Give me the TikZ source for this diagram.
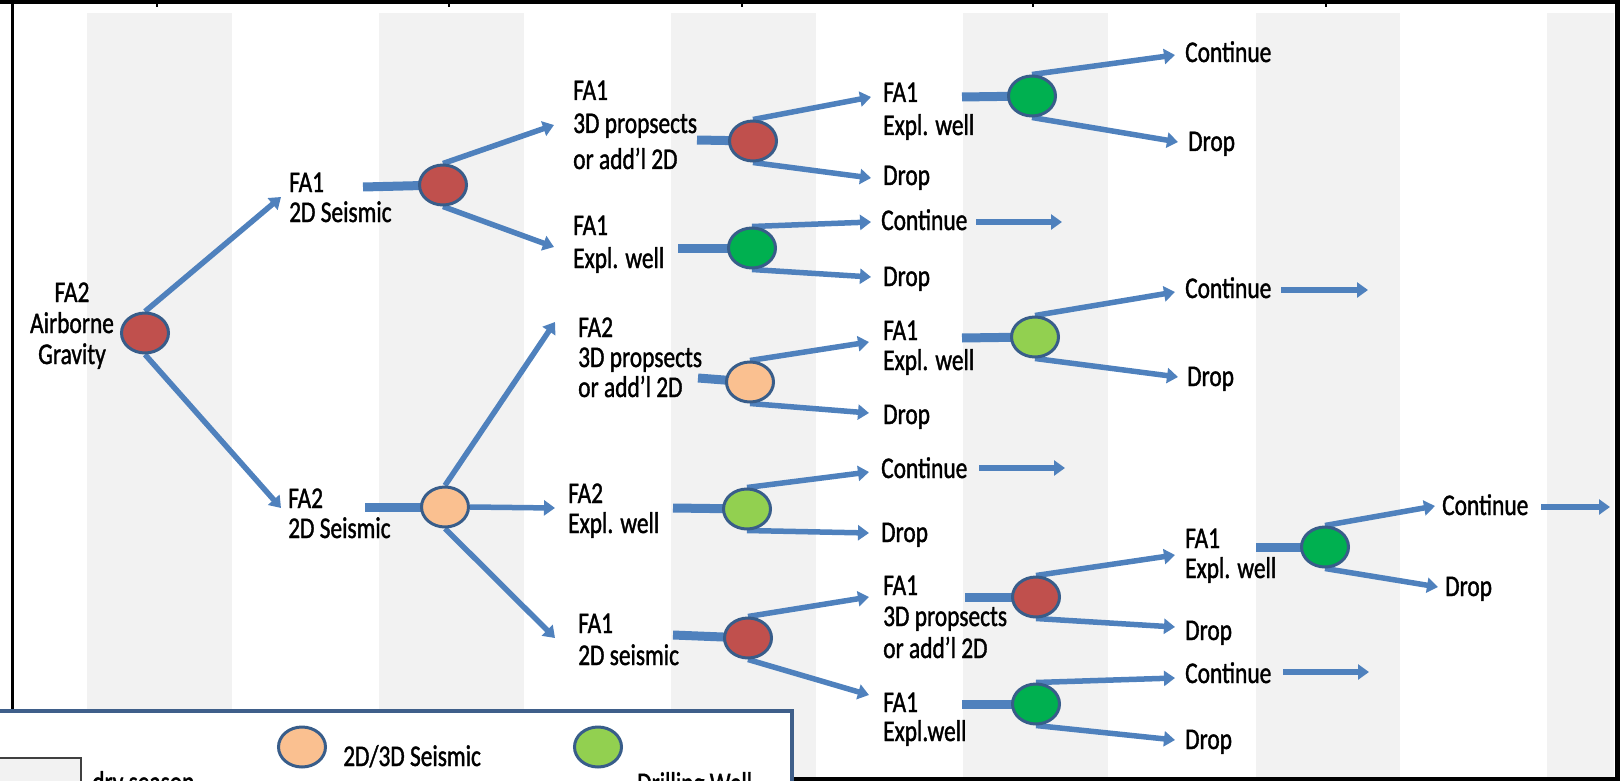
\documentclass[tikz,border=0pt]{standalone}
\usepackage{fontspec}
\setmainfont{Carlito}[FakeBold=1.5]
\usepackage{graphicx}
\usetikzlibrary{shapes.geometric,arrows.meta}
\definecolor{cLine}{HTML}{4F81BD}
\definecolor{cOut}{HTML}{385D8A}
\definecolor{cRed}{HTML}{C0504D}
\definecolor{cGreen}{HTML}{00B050}
\definecolor{cLgreen}{HTML}{92D050}
\definecolor{cPeach}{HTML}{FAC090}
\definecolor{cStripe}{HTML}{F2F2F2}
\definecolor{cLegend}{HTML}{3F5F8A}
\newcommand\sqz[1]{\scalebox{0.78}[1]{#1}}
\newcommand\mylines[1]{\sqz{\begin{tabular}[t]{@{}l@{}}#1\end{tabular}}}
\pgfdeclarelayer{back}
\pgfdeclarelayer{mid}
\pgfsetlayers{back,mid,main}
\tikzset{
  dot/.style={ellipse, draw=cOut, line width=3pt, minimum width=47pt, minimum height=40pt, inner sep=0pt},
  reddot/.style={dot, fill=cRed},
  grndot/.style={dot, fill=cGreen},
  lgdot/.style={dot, fill=cLgreen},
  pchdot/.style={dot, fill=cPeach},
  lbl/.style={anchor=base west, inner sep=0pt, font=\fontsize{30}{31}\selectfont},
  branch/.style={draw=cLine, line width=5.5pt, -{Triangle[length=11pt,width=15pt]}},
  stem/.style={draw=cLine, line width=9pt},
}
\begin{document}
\begin{tikzpicture}[x=1pt,y=-1pt]
\useasboundingbox (0,0) rectangle (1620,781);
% background stripes
\begin{pgfonlayer}{back}
  \foreach \a/\b in {87/232,379/524,671/816,963/1108,1256/1400,1547/1614}
    \fill[cStripe] (\a,13) rectangle (\b,777);
\end{pgfonlayer}
% frame
\fill[black] (0,0) rectangle (1620,4);
\fill[black] (11,0) rectangle (14,711);
\fill[black] (1615,0) rectangle (1620,781);
\fill[black] (792,777) rectangle (1620,781);
\foreach \x in {157,449,742,1033,1326}
  \fill[black] (\x-1,4) rectangle (\x+1,7);

% ---------- circles ----------
\node[reddot] (r0) at (145,333) {};
\node[reddot] (c2) at (443,185) {};
\node[reddot] (c3) at (753,141) {};
\node[grndot] (c4) at (1032,96) {};
\node[grndot] (c5) at (752,248) {};
\node[pchdot] (c6) at (445,507) {};
\node[pchdot] (c7) at (750,382) {};
\node[lgdot] (c8) at (1035,337) {};
\node[lgdot] (c9) at (747,509) {};
\node[reddot] (c10) at (748,638) {};
\node[reddot] (c11) at (1036,597) {};
\node[grndot] (c12) at (1036,704) {};
\node[grndot] (c13) at (1325,547) {};

% ---------- labels ----------
\node[lbl, anchor=base] (t0) at (72,302) {\sqz{\begin{tabular}[t]{@{}c@{}}FA2\\Airborne\\Gravity\end{tabular}}};
\node[lbl] (t2) at (289,192) {\mylines{FA1\\[-1pt]2D Seismic}};
\node[lbl] (t3) at (573,100) {\mylines{FA1\\[2pt]3D propsects\\[5pt]or add’l 2D}};
\node[lbl] (t5) at (573,235) {\mylines{FA1\\[2pt]Expl. well}};
\node[lbl] (t4) at (883,102) {\mylines{FA1\\[2pt]Expl. well}};
\node[lbl] (t3d) at (883,185) {\sqz{Drop}};
\node[lbl] (t4u) at (1185,62) {\sqz{Continue}};
\node[lbl] (t4d) at (1188,151) {\sqz{Drop}};
\node[lbl] (t5u) at (881,230) {\sqz{Continue}};
\node[lbl] (t5d) at (883,286) {\sqz{Drop}};
\node[lbl] (t6) at (288,508) {\mylines{FA2\\[-1pt]2D Seismic}};
\node[lbl] (t7) at (578,337) {\mylines{FA2\\[-1pt]3D propsects\\[-1pt]or add’l 2D}};
\node[lbl] (t7u) at (883,340) {\mylines{FA1\\[-1pt]Expl. well}};
\node[lbl] (t7d) at (883,424) {\sqz{Drop}};
\node[lbl] (t8u) at (1185,298) {\sqz{Continue}};
\node[lbl] (t8d) at (1187,386) {\sqz{Drop}};
\node[lbl] (t9) at (568,503) {\mylines{FA2\\[-1pt]Expl. well}};
\node[lbl] (t9u) at (881,478) {\sqz{Continue}};
\node[lbl] (t9d) at (881,542) {\sqz{Drop}};
\node[lbl] (t10) at (578,633) {\mylines{FA1\\[1pt]2D seismic}};
\node[lbl] (t10u) at (883,595) {\mylines{FA1\\3D propsects\\[1pt]or add’l 2D}};
\node[lbl] (t10d) at (883,712) {\mylines{FA1\\[-2pt]Expl.well}};
\node[lbl] (t11u) at (1185,548) {\mylines{FA1\\[-1pt]Expl. well}};
\node[lbl] (t11d) at (1185,640) {\sqz{Drop}};
\node[lbl] (t12u) at (1185,683) {\sqz{Continue}};
\node[lbl] (t12d) at (1185,749) {\sqz{Drop}};
\node[lbl] (t13u) at (1442,515) {\sqz{Continue}};
\node[lbl] (t13d) at (1445,596) {\sqz{Drop}};

% ---------- coordinates ----------
\coordinate (a1) at (281,197); \coordinate (a2) at (281,508);
\coordinate (s2) at (363,187);
\coordinate (b2u) at (554,125); \coordinate (b2d) at (554,247);
\coordinate (s3) at (697,140);
\coordinate (b3u) at (871,97); \coordinate (b3d) at (871,178);
\coordinate (s4) at (962,97);
\coordinate (b4u) at (1175,55); \coordinate (b4d) at (1178,142);
\coordinate (s5) at (678,248);
\coordinate (b5u) at (871,222); \coordinate (b5d) at (871,277);
\coordinate (k5a) at (976,222); \coordinate (k5b) at (1062,222);
\coordinate (s6) at (365,507);
\coordinate (b6u) at (555,322); \coordinate (b6r) at (555,508); \coordinate (b6d) at (555,638);
\coordinate (s7) at (698,378);
\coordinate (b7u) at (869,342); \coordinate (b7d) at (869,413);
\coordinate (s8) at (962,338);
\coordinate (b8u) at (1175,292); \coordinate (b8d) at (1178,377);
\coordinate (k8a) at (1281,290); \coordinate (k8b) at (1368,290);
\coordinate (s9) at (673,508);
\coordinate (b9u) at (869,472); \coordinate (b9d) at (869,533);
\coordinate (k9a) at (979,468); \coordinate (k9b) at (1065,468);
\coordinate (s10) at (673,635);
\coordinate (b10u) at (869,597); \coordinate (b10d) at (869,695);
\coordinate (s11) at (965,597);
\coordinate (b11u) at (1175,555); \coordinate (b11d) at (1175,627);
\coordinate (s12) at (962,704);
\coordinate (b12u) at (1175,678); \coordinate (b12d) at (1175,740);
\coordinate (k12a) at (1283,672); \coordinate (k12b) at (1369,672);
\coordinate (s13) at (1256,547);
\coordinate (b13u) at (1435,506); \coordinate (b13d) at (1438,587);
\coordinate (k13a) at (1541,507); \coordinate (k13b) at (1610,507);

% ---------- connectors ----------
\begin{pgfonlayer}{mid}
  \draw[branch] (r0.north) -- (a1);
  \draw[branch] (r0.south) -- (a2);
  \draw[stem] (s2) -- (c2.center);
  \draw[branch] (c2.north) -- (b2u);
  \draw[branch] (c2.south) -- (b2d);
  \draw[stem] (s3) -- (c3.center);
  \draw[branch] (c3.north) -- (b3u);
  \draw[branch] (c3.south) -- (b3d);
  \draw[stem] (s4) -- (c4.center);
  \draw[branch] (c4.north) -- (b4u);
  \draw[branch] (c4.south) -- (b4d);
  \draw[stem] (s5) -- (c5.center);
  \draw[branch] (c5.north) -- (b5u);
  \draw[branch] (c5.south) -- (b5d);
  \draw[branch] (k5a) -- (k5b);
  \draw[stem] (s6) -- (c6.center);
  \draw[branch] (c6.north) -- (b6u);
  \draw[branch] (c6.east) -- (b6r);
  \draw[branch] (c6.south) -- (b6d);
  \draw[stem] (s7) -- (c7.center);
  \draw[branch] (c7.north) -- (b7u);
  \draw[branch] (c7.south) -- (b7d);
  \draw[stem] (s8) -- (c8.center);
  \draw[branch] (c8.north) -- (b8u);
  \draw[branch] (c8.south) -- (b8d);
  \draw[branch] (k8a) -- (k8b);
  \draw[stem] (s9) -- (c9.center);
  \draw[branch] (c9.north) -- (b9u);
  \draw[branch] (c9.south) -- (b9d);
  \draw[branch] (k9a) -- (k9b);
  \draw[stem] (s10) -- (c10.center);
  \draw[branch] (c10.north) -- (b10u);
  \draw[branch] (c10.south) -- (b10d);
  \draw[stem] (s11) -- (c11.center);
  \draw[branch] (c11.north) -- (b11u);
  \draw[branch] (c11.south) -- (b11d);
  \draw[stem] (s12) -- (c12.center);
  \draw[branch] (c12.north) -- (b12u);
  \draw[branch] (c12.south) -- (b12d);
  \draw[branch] (k12a) -- (k12b);
  \draw[stem] (s13) -- (c13.center);
  \draw[branch] (c13.north) -- (b13u);
  \draw[branch] (c13.south) -- (b13d);
  \draw[branch] (k13a) -- (k13b);
\end{pgfonlayer}

% ---------- legend ----------
\filldraw[fill=white, draw=cLegend, line width=4pt] (-10,711) rectangle (792,800);
\filldraw[fill=cStripe, draw=black!75, line width=1.5pt] (-5,758) rectangle (81,800);
\node[lbl] (lg0t) at (92,792) {\sqz{dry season}};
\node[pchdot] (lg1) at (302,747) {};
\node[lbl] (lg1t) at (343,766) {\sqz{2D/3D Seismic}};
\node[lgdot] (lg2) at (598,747) {};
\node[lbl] (lg2t) at (637,793) {\sqz{Drilling Well}};
\end{tikzpicture}
\end{document}
